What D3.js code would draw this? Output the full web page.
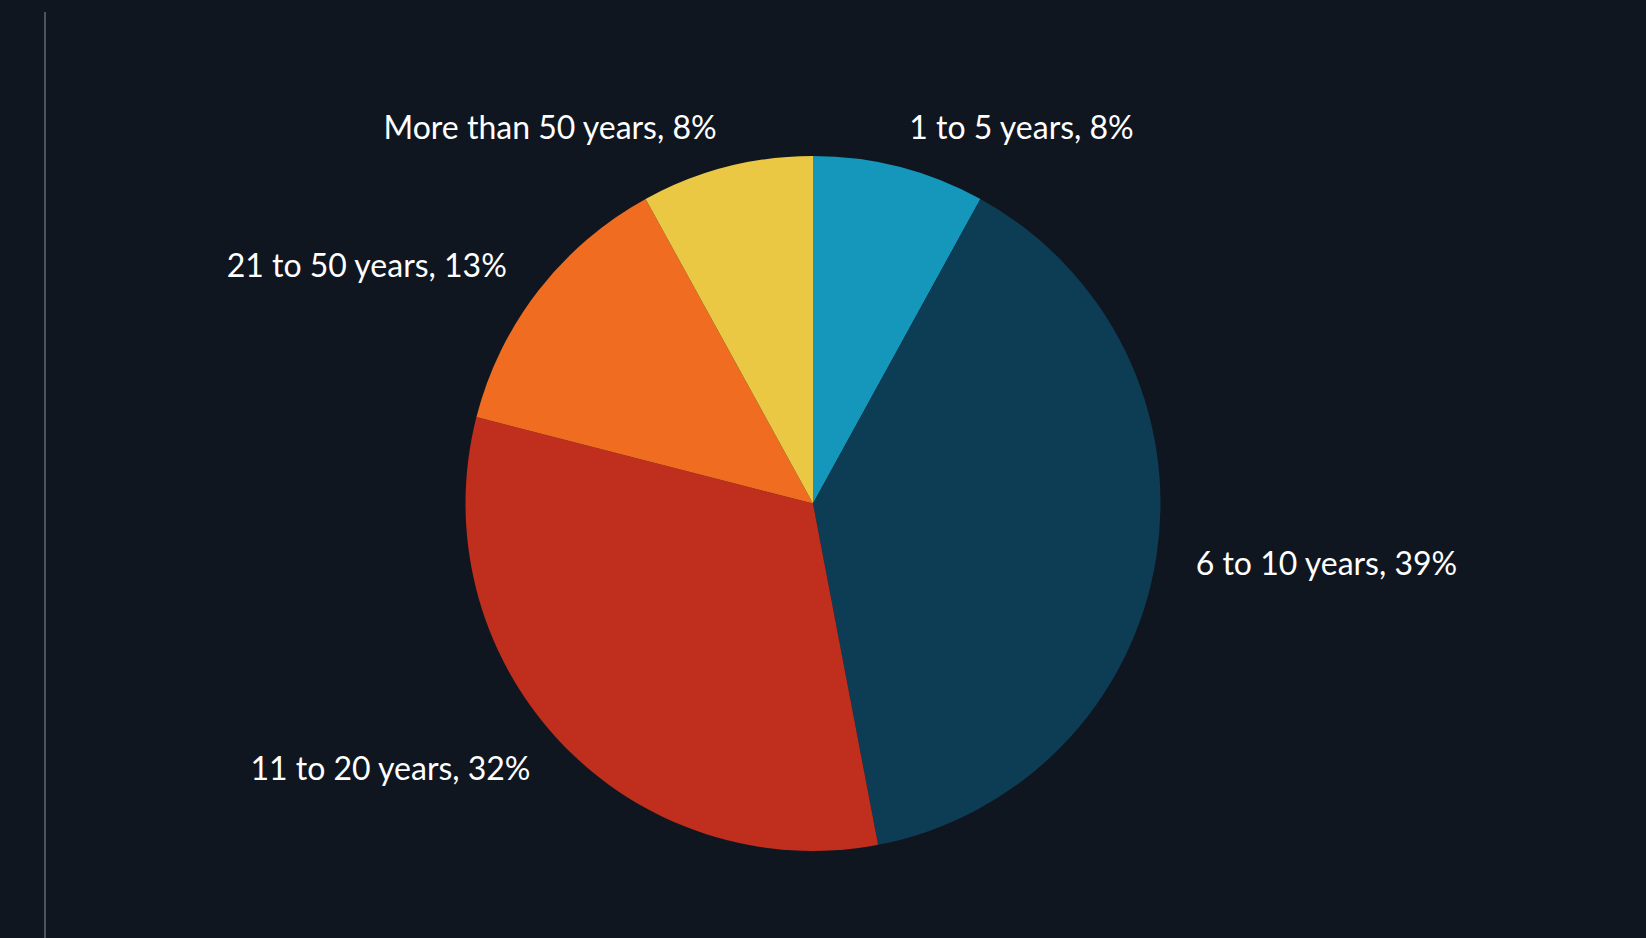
<!DOCTYPE html>
<html>
<head>
<meta charset="utf-8">
<script src="https://cdn.jsdelivr.net/npm/d3@7"></script>
<style>
  html, body { margin: 0; padding: 0; background: #0f1620; }
  svg { display: block; }
</style>
</head>
<body>
<div class="pie"></div>
<script>
// categories and their shares (percent)
var categories = ["1 to 5 years", "6 to 10 years", "11 to 20 years", "21 to 50 years", "More than 50 years"];
var shares = [8, 39, 32, 13, 8];
var colors = ["#1596bb", "#0d3c55", "#c02e1d", "#f06c21", "#ebc844"];

var svgWidth = 1646;
var svgHeight = 938;

var svg = d3.select(".pie")
    .append("svg")
    .attr("width", svgWidth)
    .attr("height", svgHeight);

// background
svg.append("rect")
    .attr("width", svgWidth)
    .attr("height", svgHeight)
    .attr("fill", "#0f1620");

// thin vertical rule on the left
svg.append("line")
    .attr("x1", 45).attr("x2", 45)
    .attr("y1", 12).attr("y2", svgHeight)
    .attr("stroke", "#4d545c")
    .attr("stroke-width", 2);

var cx = 813, cy = 503.5, radius = 347.5;

var chartGroup = svg.append("g")
    .attr("transform", `translate(${cx}, ${cy})`);

var pie = d3.pie().sort(null).value(d => d);
var arcs = pie(shares);

var arc = d3.arc().innerRadius(0).outerRadius(radius);
// labels sit on a ring a bit outside the pie
var labelArc = d3.arc().innerRadius(radius + 40).outerRadius(radius + 40);

chartGroup.selectAll("path")
    .data(arcs)
    .enter()
    .append("path")
    .attr("d", arc)
    .attr("fill", (d, i) => colors[i]);

chartGroup.selectAll("text")
    .data(arcs)
    .enter()
    .append("text")
    .attr("transform", d => `translate(${labelArc.centroid(d)})`)
    .attr("dy", "0.35em")
    .attr("text-anchor", d => (d.startAngle + d.endAngle) / 2 < Math.PI ? "start" : "end")
    .attr("fill", "#ffffff")
    .style("font-family", "Lato, 'Noto Sans', sans-serif")
    .style("font-size", "32px")
    .text((d, i) => `${categories[i]}, ${shares[i]}%`);
</script>
</body>
</html>
